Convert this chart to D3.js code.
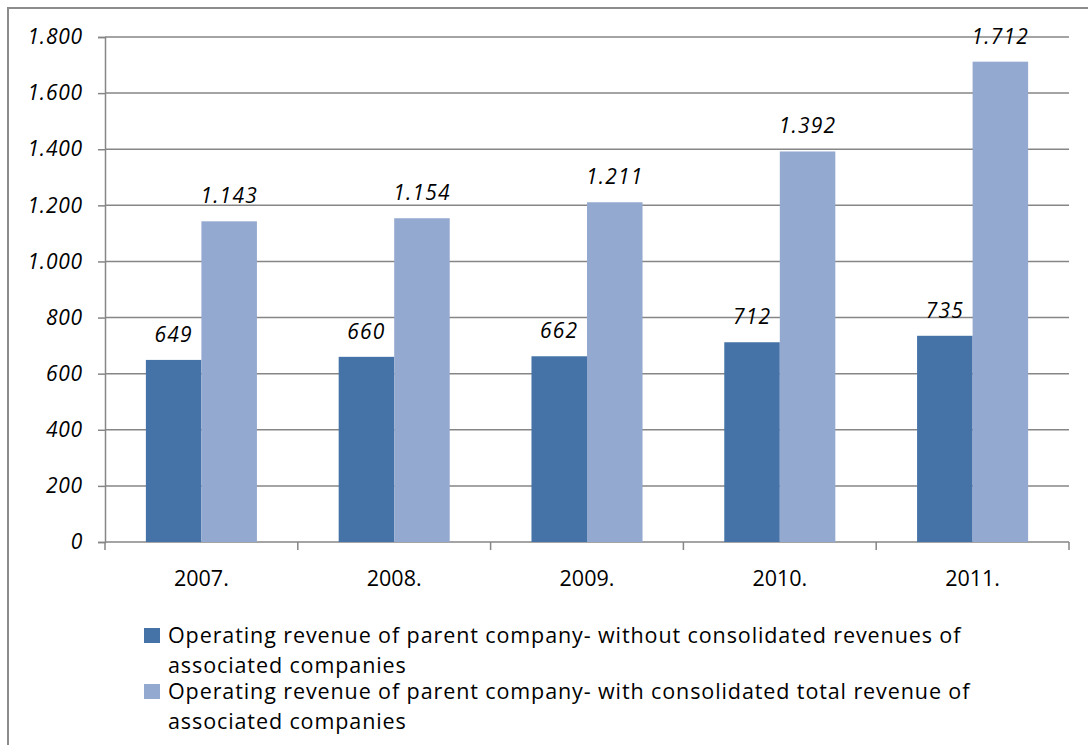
<!DOCTYPE html>
<html>
<head>
<meta charset="utf-8">
<script src="https://cdn.jsdelivr.net/npm/d3@7/dist/d3.min.js"></script>
<style>
  body { margin: 0; background: #fff; }
  svg { display: block; }
</style>
</head>
<body>
<script>
var years = ['2007.', '2008.', '2009.', '2010.', '2011.'];
var withoutAssoc = [649, 660, 662, 712, 735];
var withAssoc = [1143, 1154, 1211, 1392, 1712];
var yTicks = [0, 200, 400, 600, 800, 1000, 1200, 1400, 1600, 1800];
var seriesNames = [
  ['Operating revenue of parent company- without consolidated revenues of', 'associated companies'],
  ['Operating revenue of parent company- with consolidated total revenue of', 'associated companies']
];
var colors = ['#4573a7', '#94a9d0'];

var W = 1088, H = 745;
var plotLeft = 105, plotRight = 1069, plotTop = 37, plotBottom = 542;

var svg = d3.select('body').append('svg').attr('width', W).attr('height', H);

// outer frame (only top and left visible)
svg.append('path')
  .attr('d', 'M8,' + H + 'V8H' + W)
  .attr('fill', 'none')
  .attr('stroke', '#8c8c8c')
  .attr('stroke-width', 2);

var x = d3.scaleBand().domain(years).range([plotLeft, plotRight]).paddingInner(0.424).paddingOuter(0.212);
var x1 = d3.scaleBand().domain([0, 1]).range([0, x.bandwidth()]);
var y = d3.scaleLinear().domain([0, 1800]).range([plotBottom, plotTop]);

var grey = '#868686';
var fmt = function(d){ return d3.format(',')(d).replace(',', '.'); };

// gridlines
svg.append('g').selectAll('line')
  .data(yTicks.slice(1))
  .enter().append('line')
    .attr('x1', plotLeft).attr('x2', plotRight)
    .attr('y1', function(d){ return y(d); })
    .attr('y2', function(d){ return y(d); })
    .attr('stroke', grey).attr('stroke-width', 1.5);

// y axis
var yAxis = d3.axisLeft(y).tickValues(yTicks).tickSize(7).tickPadding(15).tickFormat(fmt);
var gy = svg.append('g').attr('transform', 'translate(' + plotLeft + ',0)').call(yAxis);
gy.select('.domain').attr('stroke', grey).attr('stroke-width', 1.5);
gy.selectAll('.tick line').attr('stroke', grey).attr('stroke-width', 1.5);
gy.selectAll('.tick text')
  .attr('fill', '#000')
  .attr('font-family', 'Open Sans')
  .attr('font-style', 'italic')
  .attr('font-size', 21)
  .attr('letter-spacing', 0.8);

// x axis
svg.append('line')
  .attr('x1', plotLeft).attr('x2', plotRight).attr('y1', plotBottom).attr('y2', plotBottom)
  .attr('stroke', grey).attr('stroke-width', 1.5);
var step = x.step();
svg.append('g').selectAll('line')
  .data(d3.range(years.length + 1))
  .enter().append('line')
    .attr('x1', function(i){ return plotLeft + i * step; })
    .attr('x2', function(i){ return plotLeft + i * step; })
    .attr('y1', plotBottom).attr('y2', plotBottom + 8)
    .attr('stroke', grey).attr('stroke-width', 1.5);
svg.append('g').selectAll('text')
  .data(years)
  .enter().append('text')
    .attr('x', function(d){ return x(d) + x.bandwidth() / 2; })
    .attr('y', 586)
    .attr('text-anchor', 'middle')
    .attr('font-family', 'Open Sans')
    .attr('font-size', 21.5)
    .text(function(d){ return d; });

// bars
var series = [withoutAssoc, withAssoc];
series.forEach(function(vals, s) {
  var g = svg.append('g');
  g.selectAll('rect')
    .data(vals)
    .enter().append('rect')
      .attr('x', function(d, i){ return x(years[i]) + x1(s); })
      .attr('y', function(d){ return y(d); })
      .attr('width', x1.bandwidth())
      .attr('height', function(d){ return plotBottom - y(d); })
      .attr('fill', colors[s]);
  g.selectAll('text')
    .data(vals)
    .enter().append('text')
      .attr('x', function(d, i){ return x(years[i]) + x1(s) + x1.bandwidth() / 2; })
      .attr('y', function(d){ return y(d) - 18; })
      .attr('text-anchor', 'middle')
      .attr('font-family', 'Open Sans')
      .attr('font-style', 'italic')
      .attr('font-size', 21)
      .attr('letter-spacing', 1.2)
      .text(fmt);
});

// legend
var legend = svg.append('g');
seriesNames.forEach(function(lines, s) {
  var base = 643 + s * 56;
  legend.append('rect')
    .attr('x', 144).attr('y', base - 15)
    .attr('width', 16).attr('height', 15)
    .attr('fill', colors[s]);
  lines.forEach(function(t, k) {
    legend.append('text')
      .attr('x', 168)
      .attr('y', base + k * 29.5)
      .attr('font-family', 'Open Sans')
      .attr('font-size', 21.5)
      .attr('letter-spacing', 0.9)
      .text(t);
  });
});
</script>
</body>
</html>
